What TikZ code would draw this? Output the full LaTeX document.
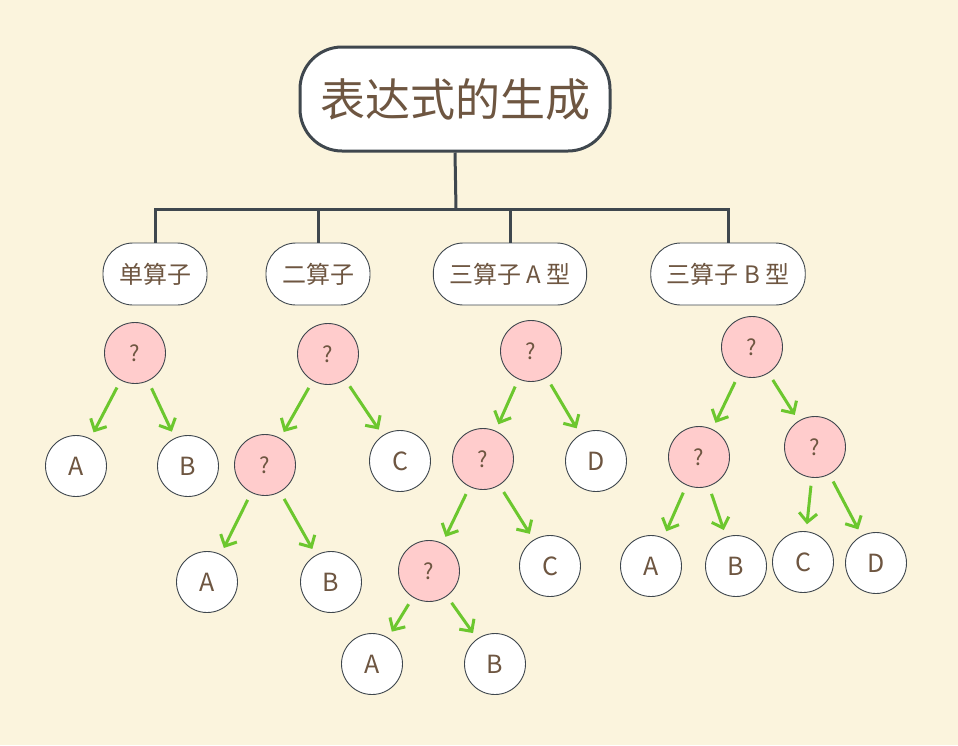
\documentclass[tikz,border=0pt]{standalone}
\usepackage{fontspec}
\setmainfont{Noto Sans CJK SC}
\usepackage{tikz}
\usetikzlibrary{arrows.meta}
\usetikzlibrary{positioning}
\definecolor{paper}{HTML}{FBF4DD}
\definecolor{ink}{HTML}{6E5641}
\definecolor{rim}{HTML}{3F474E}
\definecolor{pinkop}{HTML}{FFCCCC}
\definecolor{leafgreen}{HTML}{6CC72E}
\tikzset{
    opnode/.style={
        circle, minimum size=61pt, inner sep=0pt,
        draw=rim, line width=0.9pt, fill=pinkop,
        text=ink, font=\fontsize{22}{24}\selectfont,
    },
    leafnode/.style={
        circle, minimum size=61pt, inner sep=0pt,
        draw=rim, line width=0.9pt, fill=white,
        text=ink, font=\fontsize{25}{27}\selectfont,
    },
    headbox/.style={
        rectangle, rounded corners=30pt,
        minimum height=62pt, inner xsep=16pt,
        draw=rim, line width=0.9pt, fill=white,
        text=ink, font=\fontsize{24}{26}\selectfont,
    },
    busline/.style={draw=rim, line width=3pt},
    childarrow/.style={
        draw=leafgreen, line width=3pt,
        -{Straight Barb[length=9pt,width=18pt]},
        shorten <=8pt, shorten >=7pt,
    },
}
\begin{document}
\begin{tikzpicture}[x=1pt, y=-1pt]
        \fill[paper] (0,0) rectangle (958,745);
        \useasboundingbox (0,0) rectangle (958,745);

        % title and the four kinds
        \node (title) at(455,99) [
            rectangle, rounded corners=42pt,
            minimum width=310pt, minimum height=104pt,
            draw=rim, line width=3pt, fill=white,
            text=ink, font=\fontsize{45}{50}\selectfont,
        ] {表达式的生成};

        \node (single) at(155,274) [headbox] {单算子};
        \node (double) at(318,274) [headbox] {二算子};
        \node (tripa) at(510,274) [headbox] {三算子 A 型};
        \node (tripb) at(728,274) [headbox] {三算子 B 型};

        \coordinate (bus) at(456,209);
        \draw[busline] (title.south) -- (bus);
        \draw[busline] (single.north) |- (tripb.north |- bus) -- (tripb.north);
        \draw[busline] (double.north) -- (double.north |- bus);
        \draw[busline] (tripa.north) -- (tripa.north |- bus);

        % single operator
        \node (s-op) at(135,353) [opnode] {?};
        \node (s-a) at(76,466) [leafnode] {A};
        \node (s-b) at(188,466) [leafnode] {B};
        \draw[childarrow] (s-op) -- (s-a);
        \draw[childarrow] (s-op) -- (s-b);

        % two operators
        \node (d-op1) at(328,354) [opnode] {?};
        \node (d-op2) at(265,465) [opnode] {?};
        \node (d-c) at(400,461) [leafnode] {C};
        \node (d-a) at(207,582) [leafnode] {A};
        \node (d-b) at(331,582) [leafnode] {B};
        \draw[childarrow] (d-op1) -- (d-op2);
        \draw[childarrow] (d-op1) -- (d-c);
        \draw[childarrow] (d-op2) -- (d-a);
        \draw[childarrow] (d-op2) -- (d-b);

        % three operators, type A
        \node (ta-op1) at(531,351) [opnode] {?};
        \node (ta-op2) at(483,459) [opnode] {?};
        \node (ta-d) at(596,461) [leafnode] {D};
        \node (ta-op3) at(429,571) [opnode] {?};
        \node (ta-c) at(550,566) [leafnode] {C};
        \node (ta-a) at(372,664) [leafnode] {A};
        \node (ta-b) at(495,664) [leafnode] {B};
        \draw[childarrow] (ta-op1) -- (ta-op2);
        \draw[childarrow] (ta-op1) -- (ta-d);
        \draw[childarrow] (ta-op2) -- (ta-op3);
        \draw[childarrow] (ta-op2) -- (ta-c);
        \draw[childarrow] (ta-op3) -- (ta-a);
        \draw[childarrow] (ta-op3) -- (ta-b);

        % three operators, type B
        \node (tb-op1) at(752,347) [opnode] {?};
        \node (tb-op2) at(699,457) [opnode] {?};
        \node (tb-op3) at(815,447) [opnode] {?};
        \node (tb-a) at(651,566) [leafnode] {A};
        \node (tb-b) at(736,566) [leafnode] {B};
        \node (tb-c) at(803,562) [leafnode] {C};
        \node (tb-d) at(876,563) [leafnode] {D};
        \draw[childarrow] (tb-op1) -- (tb-op2);
        \draw[childarrow] (tb-op1) -- (tb-op3);
        \draw[childarrow] (tb-op2) -- (tb-a);
        \draw[childarrow] (tb-op2) -- (tb-b);
        \draw[childarrow] (tb-op3) -- (tb-c);
        \draw[childarrow] (tb-op3) -- (tb-d);
    \end{tikzpicture}
\end{document}
